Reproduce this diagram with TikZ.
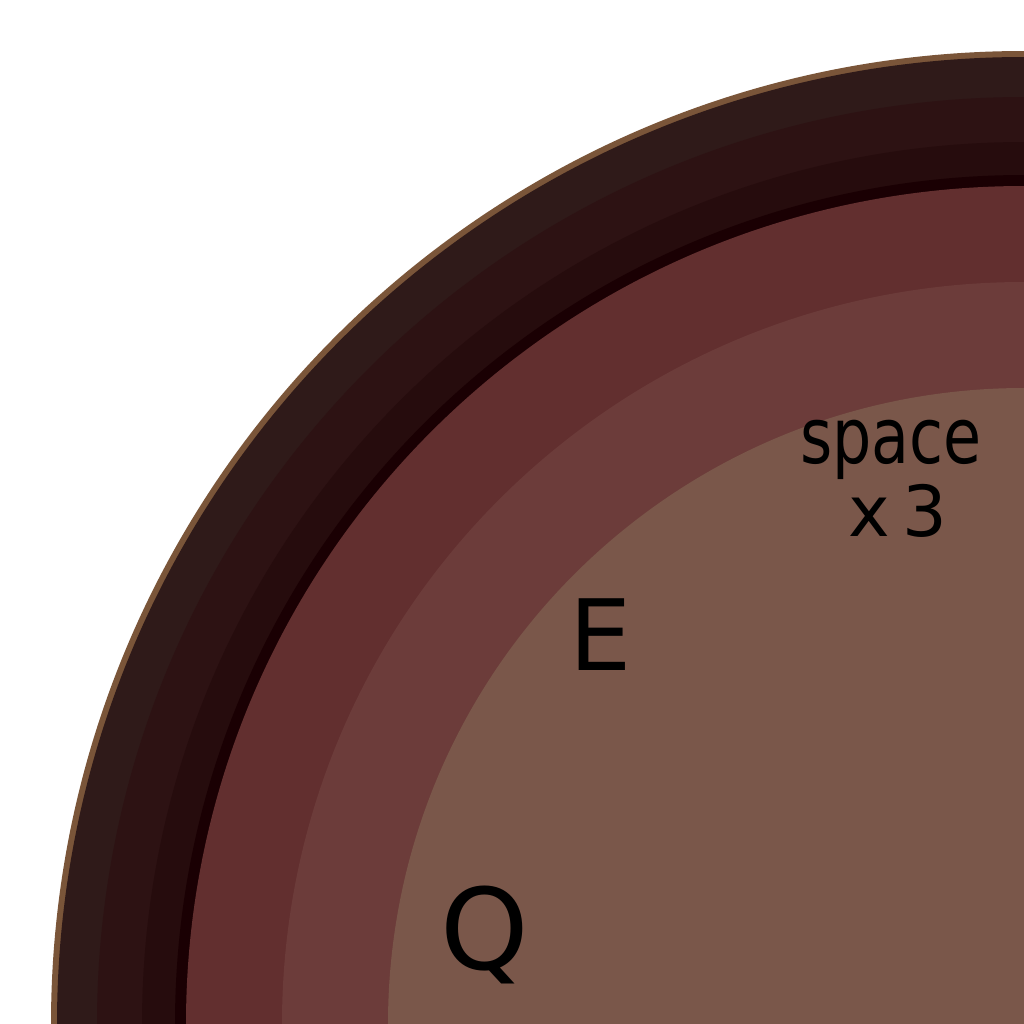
\documentclass[tikz,border=0pt]{standalone}
\usepackage{fontspec}
\setmainfont{DejaVu Sans}
\definecolor{rim}{HTML}{7A5539}
\definecolor{ringA}{HTML}{2F1A19}
\definecolor{ringB}{HTML}{2D1213}
\definecolor{ringC}{HTML}{260C0D}
\definecolor{ringD}{HTML}{1A0003}
\definecolor{ringE}{HTML}{622F2F}
\definecolor{ringF}{HTML}{6C3C3A}
\definecolor{ringG}{HTML}{7A574A}
\tikzset{
  px/.style={x=0.01cm,y=-0.01cm},
  hand/.style={inner sep=0pt, text=black, font=#1},
}
\begin{document}
\begin{tikzpicture}[px]
\useasboundingbox (0,0) rectangle (1024,1024);
\fill[white] (0,0) rectangle (1024,1024);
\begin{scope}
\clip (0,0) rectangle (1024,1024);
\coordinate (c) at (1024,1024);
\fill[rim]   (c) circle[radius=973];
\fill[ringA] (c) circle[radius=967];
\fill[ringB] (c) circle[radius=927];
\fill[ringC] (c) circle[radius=882];
\fill[ringD] (c) circle[radius=849];
\fill[ringE] (c) circle[radius=838];
\fill[ringF] (c) circle[radius=742];
\fill[ringG] (c) circle[radius=636];
\end{scope}
\node[hand={\fontsize{22}{22}\selectfont}, anchor=base, xscale=0.8] (space) at (891,463) {space};
\node[hand={\fontsize{20}{20}\selectfont}, anchor=base] (x3) at (898,536) {x\,3};
\node[hand={\fontsize{28}{28}\selectfont}] (e) at (601,635) {E};
\node[hand={\fontsize{32}{32}\selectfont}] (q) at (485,935) {Q};
\end{tikzpicture}
\end{document}
